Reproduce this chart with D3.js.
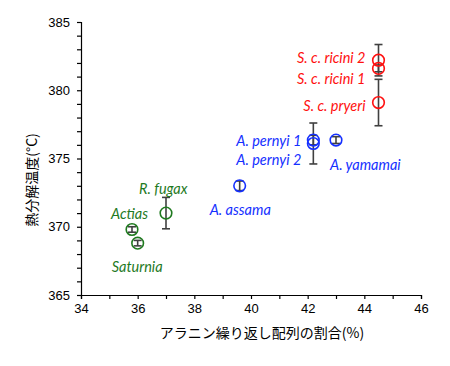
<!DOCTYPE html>
<html>
<head>
<meta charset="utf-8">
<script src="https://cdn.jsdelivr.net/npm/d3@7"></script>
<style>
  body { margin: 0; background: #fff; }
  .tick text { font-family: "Liberation Sans", Arial, sans-serif; font-size: 13px; fill: #000; }
  .lbl { font-family: Lato, "Open Sans", sans-serif; font-style: italic; font-size: 14.5px; }
  .title { font-family: "Noto Sans CJK JP", sans-serif; font-size: 14px; fill: #000; }
</style>
</head>
<body>
<svg width="450" height="366"></svg>
<script>
// species, x = alanine repeat %, y = decomposition temp, err = +/- error
var names = ['Actias', 'Saturnia', 'R. fugax', 'A. assama', 'A. pernyi 1', 'A. pernyi 2',
             'A. yamamai', 'S. c. ricini 2', 'S. c. ricini 1', 'S. c. pryeri'];
var alanine = [35.8, 36.0, 37.0, 39.6, 42.2, 42.2, 43.0, 44.5, 44.5, 44.5];
var temps = [369.8, 368.8, 371.0, 373.0, 376.35, 376.1, 376.35, 382.2, 381.6, 379.1];
var errors = [0.2, 0.2, 1.15, 0.35, 0.35, 1.5, 0.25, 1.15, 0.25, 1.7];
var groups = ['g', 'g', 'g', 'b', 'b', 'b', 'b', 'r', 'r', 'r'];

var colors = { g: '#1f7a1f', b: '#1530ff', r: '#ff1010' };

var svg = d3.select('svg');
var padding = { t: 22, r: 29, b: 71, l: 81 };
var chartWidth = 450 - padding.l - padding.r;
var chartHeight = 366 - padding.t - padding.b;

var xScale = d3.scaleLinear().domain([34, 46]).range([0, chartWidth]);
var yScale = d3.scaleLinear().domain([365, 385]).range([chartHeight, 0]);

var chartG = svg.append('g')
    .attr('transform', `translate(${padding.l}, ${padding.t})`);

// axes: ticks every unit, labels every 2 (x) / 5 (y)
var xAxis = chartG.append('g')
    .attr('transform', `translate(0, ${chartHeight})`)
    .call(d3.axisBottom(xScale).tickValues(d3.range(34, 47, 1))
        .tickSize(4).tickPadding(5)
        .tickFormat(d => d % 2 === 0 ? d : ''));

var yAxis = chartG.append('g')
    .call(d3.axisLeft(yScale).tickValues(d3.range(365, 386, 1))
        .tickSize(4).tickPadding(7)
        .tickFormat(d => d % 5 === 0 ? d : ''));

svg.selectAll('.domain, .tick line').attr('stroke', '#000').attr('stroke-width', 1.2);

var data = names.map(function (n, i) {
    return { name: n, x: alanine[i], y: temps[i], err: errors[i], g: groups[i] };
});

// error bars
var eb = chartG.selectAll('.err').data(data).enter().append('g').attr('class', 'err')
    .attr('stroke', '#404040').attr('stroke-width', 1.6);
eb.append('line')
    .attr('x1', d => xScale(d.x)).attr('x2', d => xScale(d.x))
    .attr('y1', d => yScale(d.y - d.err)).attr('y2', d => yScale(d.y + d.err));
eb.append('line')
    .attr('x1', d => xScale(d.x) - 4).attr('x2', d => xScale(d.x) + 4)
    .attr('y1', d => yScale(d.y + d.err)).attr('y2', d => yScale(d.y + d.err));
eb.append('line')
    .attr('x1', d => xScale(d.x) - 4).attr('x2', d => xScale(d.x) + 4)
    .attr('y1', d => yScale(d.y - d.err)).attr('y2', d => yScale(d.y - d.err));

// markers
chartG.selectAll('.pt').data(data).enter().append('circle')
    .attr('class', 'pt')
    .attr('cx', d => xScale(d.x)).attr('cy', d => yScale(d.y))
    .attr('r', 5.8)
    .attr('fill', 'none')
    .attr('stroke', d => colors[d.g])
    .attr('stroke-width', 1.6);

// species labels: anchor, and offset (in px) from the point
var labelPos = {
    'Actias':        ['start', -21, -16],
    'Saturnia':      ['start', -26, 24],
    'R. fugax':      ['start', -27, -24],
    'A. assama':     ['start', -30, 24],
    'A. pernyi 1':   ['end', -12, 1],
    'A. pernyi 2':   ['end', -12, 16],
    'A. yamamai':    ['start', -6, 25],
    'S. c. ricini 2':['end', -13, -2],
    'S. c. ricini 1':['end', -13, 11],
    'S. c. pryeri':  ['end', -13, 3]
};
chartG.selectAll('.lbl').data(data).enter().append('text')
    .attr('class', 'lbl')
    .attr('fill', d => colors[d.g])
    .attr('text-anchor', d => labelPos[d.name][0])
    .attr('x', d => xScale(d.x) + labelPos[d.name][1])
    .attr('y', d => yScale(d.y) + labelPos[d.name][2])
    .attr('dy', '0.35em')
    .text(d => d.name);

svg.append('text').attr('class', 'title')
    .attr('text-anchor', 'middle')
    .attr('x', 262).attr('y', 338)
    .text('アラニン繰り返し配列の割合(%)');

svg.append('text').attr('class', 'title')
    .attr('text-anchor', 'middle')
    .attr('transform', 'translate(37, 180) rotate(-90)')
    .text('熱分解温度(°C)');
</script>
</body>
</html>
